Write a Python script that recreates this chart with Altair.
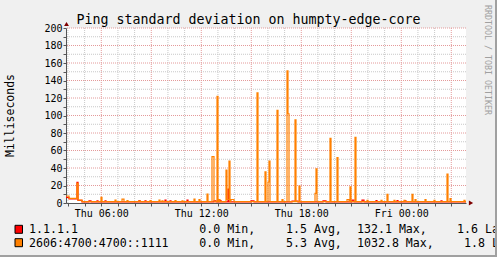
import altair as alt
import pandas as pd
from datetime import datetime, timedelta, timezone

# ---------------- data ----------------
TITLE = "Ping standard deviation on humpty-edge-core"
Y_TITLE = "Milliseconds"
WATERMARK = "RRDTOOL / TOBI OETIKER"

SERIES = ["1.1.1.1", "2606:4700:4700::1111"]
COLORS = ["#FF0000", "#FF8000"]
STAT_MIN = [0.0, 0.0]
STAT_AVG = [1.5, 5.3]
STAT_MAX = [132.1, 1032.8]
STAT_LAST = [1.6, 1.8]

WINDOW_START = "Thu 03:53"
WINDOW_END = "Fri 03:53"
SAMPLE_SECONDS = 216
Y_MAX = 200

# 1.1.1.1 (red): baseline levels and short excursions
V4_BASE_TIMES = ["Thu 03:53", "Thu 04:04", "Thu 04:35", "Thu 04:51"]
V4_BASE_VALUES = [6.5, 4.8, 3.0, 1.3]
V4_SPIKE_TIMES = ["Thu 04:31", "Thu 05:16", "Thu 05:45", "Thu 06:13", "Thu 08:16",
                  "Thu 08:37", "Thu 09:51", "Thu 10:07", "Thu 11:10", "Thu 12:46",
                  "Thu 13:06", "Thu 13:36", "Thu 14:59", "Thu 17:27", "Thu 19:18",
                  "Thu 21:04", "Thu 21:40", "Thu 22:29", "Thu 23:46", "Fri 00:13",
                  "Fri 02:23"]
V4_SPIKE_VALUES = [23.5, 2.6, 2.6, 2.6, 2.8,
                   2.6, 3.4, 2.6, 3.4, 2.6,
                   2.8, 16.0, 2.6, 2.2, 2.6,
                   3.4, 3.4, 2.8, 2.8, 2.6,
                   2.6]
V4_SPIKE_SAMPLES = [1, 2, 1, 1, 1,
                    1, 1, 1, 1, 2,
                    1, 1, 3, 6, 3,
                    2, 2, 1, 1, 1,
                    1]

# 2606:4700:4700::1111 (orange)
V6_BASE_TIMES = ["Thu 03:53", "Thu 04:04", "Thu 04:35", "Thu 04:51"]
V6_BASE_VALUES = [8.0, 5.3, 3.4, 1.6]
V6_SPIKE_TIMES = ["Thu 04:31", "Thu 05:59", "Thu 06:50", "Thu 07:15", "Thu 07:33",
                  "Thu 08:15", "Thu 08:55", "Thu 09:27", "Thu 09:39", "Thu 10:25",
                  "Thu 10:51", "Thu 11:33", "Thu 11:51", "Thu 12:21", "Thu 12:40",
                  "Thu 12:57", "Thu 13:04", "Thu 13:29", "Thu 13:33", "Thu 13:40",
                  "Thu 13:47", "Thu 15:22", "Thu 15:49", "Thu 16:01", "Thu 16:05",
                  "Thu 16:31", "Thu 16:50", "Thu 17:09", "Thu 17:12", "Thu 17:39",
                  "Thu 17:52", "Thu 18:49", "Thu 18:53", "Thu 19:43", "Thu 20:08",
                  "Thu 20:46", "Thu 20:55", "Thu 21:15", "Thu 21:57", "Thu 22:46",
                  "Thu 23:07", "Thu 23:34", "Fri 00:10", "Fri 00:37", "Fri 00:49",
                  "Fri 01:27", "Fri 01:58", "Fri 02:46", "Fri 02:57", "Fri 03:46"]
V6_SPIKE_VALUES = [22.5, 6.5, 3.4, 4.5, 2.8,
                   2.6, 2.8, 3.4, 2.6, 2.8,
                   2.6, 4.5, 4.0, 10.3, 53.0,
                   122.0, 4.0, 37.7, 4.0, 48.0,
                   4.0, 126.0, 35.5, 24.0, 48.0,
                   106.0, 4.0, 151.0, 102.0, 95.0,
                   19.4, 11.0, 39.0, 74.0, 52.0,
                   4.0, 18.5, 75.0, 3.0, 3.0,
                   10.0, 3.0, 3.0, 10.0, 4.0,
                   4.0, 3.0, 33.0, 5.0, 3.0]
V6_SPIKE_SAMPLES = [1, 1, 1, 2, 1,
                    1, 1, 1, 1, 1,
                    1, 1, 1, 1, 2,
                    1, 1, 1, 2, 1,
                    3, 1, 1, 1, 1,
                    1, 1, 1, 1, 1,
                    1, 1, 1, 1, 1,
                    2, 1, 1, 1, 1,
                    1, 1, 1, 1, 1,
                    1, 1, 1, 1, 1]

# ---------------- build tables ----------------
DAYS = {"Thu": "2019-04-04", "Fri": "2019-04-05"}
UTC = timezone.utc


def parse(s):
    d, hm = s.split()
    return datetime.fromisoformat(f"{DAYS[d]}T{hm}").replace(tzinfo=UTC)


def iso(dt):
    return dt.strftime("%Y-%m-%dT%H:%M:%SZ")


def ms(dt):
    return int(dt.timestamp() * 1000)


T0 = parse(WINDOW_START)
T1 = parse(WINDOW_END)
N = int((T1 - T0).total_seconds() // SAMPLE_SECONDS)


def sample_index(s):
    return int(round((parse(s) - T0).total_seconds() / SAMPLE_SECONDS))


def build(base_t, base_v, sp_t, sp_v, sp_w):
    bidx = [sample_index(t) for t in base_t]
    vals = []
    cur, j = base_v[0], 0
    for i in range(N):
        while j < len(bidx) and bidx[j] <= i:
            cur = base_v[j]
            j += 1
        vals.append(cur)
    for t, v, w in zip(sp_t, sp_v, sp_w):
        k = sample_index(t)
        for i in range(k, min(N, k + w)):
            vals[i] = v
    rows = [{"t": iso(T0 + timedelta(seconds=i * SAMPLE_SECONDS)), "v": vals[i]} for i in range(N)]
    rows.append({"t": iso(T1), "v": vals[-1]})
    return pd.DataFrame(rows)


df4 = build(V4_BASE_TIMES, V4_BASE_VALUES, V4_SPIKE_TIMES, V4_SPIKE_VALUES, V4_SPIKE_SAMPLES)
df6 = build(V6_BASE_TIMES, V6_BASE_VALUES, V6_SPIKE_TIMES, V6_SPIKE_VALUES, V6_SPIKE_SAMPLES)

hours = []
h = T0.replace(minute=0) + timedelta(hours=1)
while h < T1:
    hours.append(h)
    h += timedelta(hours=1)
minor_x = pd.DataFrame({"t": [iso(x) for x in hours if x.hour % 3 != 0]})
major_x = pd.DataFrame({"t": [iso(x) for x in hours if x.hour % 3 == 0]})
minor_y = pd.DataFrame({"v": [v for v in range(10, Y_MAX + 1, 20)]})
major_y = pd.DataFrame({"v": [v for v in range(20, Y_MAX + 1, 20)]})

# ---------------- styling ----------------
MONO = "DejaVu Sans Mono"
AXIS_COLOR = "#555555"
MINOR_GRID = "#C8C8C8"
MAJOR_GRID = "#E49A9A"
W, H = 400, 175
PAD = {"left": 66, "top": 28, "right": 31, "bottom": 54}

X = alt.X(
    "t:T",
    scale=alt.Scale(type="utc", domain=[ms(T0), ms(T1)]),
    axis=alt.Axis(
        values=[ms(x) for x in hours],
        labelExpr="utchours(datum.value) % 6 == 0 ? utcFormat(datum.value, '%a %H:%M') : ''",
        grid=False, domainColor=AXIS_COLOR, tickColor=AXIS_COLOR, tickSize=3,
        labelFont=MONO, labelFontSize=10, labelColor="black", labelPadding=2,
        labelOverlap=False, labelFlush=False, title=None,
    ),
)
Y = alt.Y(
    "v:Q",
    scale=alt.Scale(domain=[0, Y_MAX], nice=False),
    axis=alt.Axis(
        values=list(range(0, Y_MAX + 1, 10)),
        labelExpr="datum.value % 20 == 0 ? datum.label : ''",
        grid=False, domainColor=AXIS_COLOR, tickColor=AXIS_COLOR, tickSize=3,
        labelFont=MONO, labelFontSize=10, labelColor="black", labelPadding=1,
        labelOverlap=False, title=None,
    ),
)

layers = []
layers.append(alt.Chart(minor_x).mark_rule(color=MINOR_GRID, strokeDash=[1, 1], strokeWidth=1).encode(x=X))
layers.append(alt.Chart(minor_y).mark_rule(color=MINOR_GRID, strokeDash=[1, 1], strokeWidth=1).encode(y=Y))
layers.append(alt.Chart(major_x).mark_rule(color=MAJOR_GRID, strokeDash=[1, 1], strokeWidth=1).encode(x=X))
layers.append(alt.Chart(major_y).mark_rule(color=MAJOR_GRID, strokeDash=[1, 1], strokeWidth=1).encode(y=Y))

layers.append(alt.Chart(df4).mark_line(interpolate="step-after", color=COLORS[0], strokeWidth=1.2, clip=True).encode(x=X, y=Y))
layers.append(alt.Chart(df6).mark_line(interpolate="step-after", color=COLORS[1], strokeWidth=1.2, clip=True).encode(x=X, y=Y))

arrow_up = pd.DataFrame({"t": [iso(T0)], "v": [Y_MAX]})
arrow_right = pd.DataFrame({"t": [iso(T1)], "v": [0]})
layers.append(alt.Chart(arrow_up).mark_point(shape="triangle-up", filled=True, size=24, color="#7F0000",
                                             opacity=1, yOffset=-4, xOffset=0.5).encode(x=X, y=Y))
layers.append(alt.Chart(arrow_right).mark_point(shape="triangle-right", filled=True, size=24, color="#7F0000",
                                                opacity=1, xOffset=5).encode(x=X, y=Y))


def text(s, x, y, size, align="left", baseline="alphabetic", color="black", angle=0):
    return alt.Chart(pd.DataFrame({"s": [s]})).mark_text(
        font=MONO, fontSize=size, align=align, baseline=baseline, color=color, angle=angle
    ).encode(text="s:N", x=alt.value(x), y=alt.value(y))


layers.append(text(TITLE, 182.5, -4, 13.3, align="center"))
layers.append(text(Y_TITLE, -55, 87.5, 11.5, align="center", baseline="middle", angle=270))
layers.append(text(WATERMARK, 421, 32, 8.3, align="center", baseline="middle", color="#A0A0A0", angle=90))

# legend rows
row_base = [205.3, 218.7]
sq_top = [197.3, 210.7]
last_x = [391, 398]
for i in range(len(SERIES)):
    layers.append(alt.Chart(pd.DataFrame({"s": [SERIES[i]]})).mark_rect(
        color=COLORS[i], stroke="black", strokeWidth=1).encode(
        x=alt.value(-51), x2=alt.value(-43.5), y=alt.value(sq_top[i]), y2=alt.value(sq_top[i] + 8)))
    layers.append(text(SERIES[i], -37, row_base[i], 11.6))
    layers.append(text(f"{STAT_MIN[i]:.1f} Min,", 133.3, row_base[i], 11.6))
    layers.append(text(f"{STAT_AVG[i]:.1f} Avg,", 220, row_base[i], 11.6))
    layers.append(text(f"{STAT_MAX[i]:.1f} Max,", 291, row_base[i], 11.6))
    layers.append(text(f"{STAT_LAST[i]:.1f} Last", last_x[i], row_base[i], 11.6))

# frame shading (bottom / right)
layers.append(alt.Chart(pd.DataFrame({"s": ["b"]})).mark_rule(color="#A0A0A0", strokeWidth=2).encode(
    x=alt.value(-PAD["left"]), x2=alt.value(W + PAD["right"]), y=alt.value(H + PAD["bottom"] - 1)))
layers.append(alt.Chart(pd.DataFrame({"s": ["r"]})).mark_rule(color="#A0A0A0", strokeWidth=2).encode(
    x=alt.value(W + PAD["right"] - 1), y=alt.value(-PAD["top"]), y2=alt.value(H + PAD["bottom"])))

chart = alt.layer(*layers).properties(
    width=W, height=H,
    autosize=alt.AutoSizeParams(type="none"),
    padding=PAD,
    background="#F0F0F0",
).configure_view(fill="white", stroke=None)

chart.save("out.html", embed_options={"renderer": "svg", "actions": False})
